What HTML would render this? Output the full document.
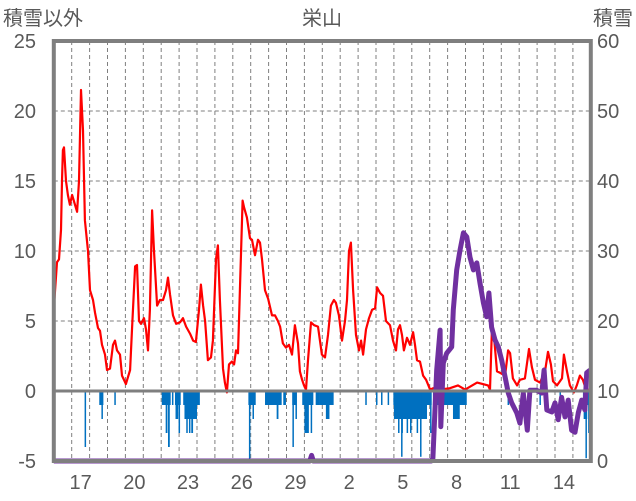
<!DOCTYPE html>
<html><head><meta charset="utf-8"><style>
body{margin:0;background:#fff;width:636px;height:501px;overflow:hidden}
svg{display:block;font-family:"Liberation Sans","Noto Sans CJK JP",sans-serif}
</style></head><body>
<svg id="chart" width="636" height="501" viewBox="0 0 636 501" xmlns="http://www.w3.org/2000/svg">
<text x="322" y="25" font-size="20" fill="#595959" text-anchor="middle">栄山</text>
<text x="3" y="25" font-size="20" fill="#595959">積雪以外</text>
<text x="633" y="25" font-size="20" fill="#595959" text-anchor="end">積雪</text>
<g id="grid"></g>
<g id="bars"></g>
<g id="lines"></g>
<g id="frame"></g>
<g id="ticks"></g>
</svg>
<script>
const xTickLabels=["17","20","23","26","29","2","5","8","11","14"];
const xTickDays=[1,4,7,10,13,16,19,22,25,28];
const leftTicks=[-5,0,5,10,15,20,25];
const rightTicks=[0,10,20,30,40,50,60];
const tempDays=[0.01,0.04,0.18,0.29,0.40,0.46,0.51,0.57,0.68,0.79,0.90,1.02,1.30,1.41,1.52,1.63,1.74,1.91,2.02,2.19,2.30,2.47,2.58,2.69,2.86,2.97,3.14,3.31,3.42,3.53,3.70,3.81,4.03,4.26,4.37,4.54,4.65,4.76,4.87,5.04,5.15,5.26,5.37,5.49,5.60,5.77,5.93,6.10,6.27,6.38,6.49,6.66,6.83,7.05,7.22,7.39,7.61,7.78,7.94,8.11,8.22,8.34,8.45,8.61,8.78,8.89,9.06,9.17,9.28,9.45,9.56,9.67,9.79,9.95,10.07,10.18,10.29,10.55,10.63,10.79,10.96,11.07,11.24,11.41,11.52,11.63,11.80,11.97,12.19,12.36,12.52,12.64,12.80,12.97,13.14,13.31,13.47,13.64,13.75,13.87,13.98,14.09,14.20,14.37,14.54,14.76,14.98,15.15,15.32,15.48,15.65,15.76,15.93,16.10,16.27,16.38,16.49,16.60,16.72,16.88,17.05,17.17,17.28,17.44,17.61,17.78,17.95,18.06,18.23,18.39,18.56,18.78,18.95,19.12,19.23,19.34,19.45,19.56,19.73,19.90,20.07,20.18,20.29,20.46,20.63,20.80,21.02,21.19,21.58,22.13,22.58,22.98,23.65,24.26,24.37,24.48,24.59,24.76,24.93,25.21,25.38,25.49,25.65,25.88,26.04,26.32,26.55,26.71,26.88,27.16,27.44,27.61,27.77,27.89,28.11,28.39,28.50,28.67,28.83,29.06,29.22,29.39,29.56,29.73,29.89];
const tempVals=[8.1,6.6,9.2,9.4,11.5,15,17.2,17.4,15,14,13.3,14,12.8,15,21.5,18.6,12.2,10,7.2,6.5,5.6,4.5,4.3,3.3,2.6,1.5,1.6,3.3,3.6,2.9,2.6,1.1,0.5,1.5,4.4,8.9,9,5,4.8,5.2,4.4,2.9,5.8,12.9,10,6.1,6.5,6.5,7.2,8.1,6.9,5.4,4.8,4.9,5.2,4.6,4.1,3.6,3.5,5.8,7.6,6.1,5,2.2,2.4,3.6,9.4,10.4,6.5,1.6,0.6,-0.1,1.9,2.1,1.9,2.9,2.7,13.6,13.1,12.4,10.9,10.8,9.7,10.8,10.6,9.4,7.2,6.6,5.4,5.4,5,4.6,3.4,3.1,3.3,2.6,4.7,3.4,1.4,0.8,0.4,0.1,2.2,4.9,4.7,4.6,2.6,2.4,4,6.1,6.5,6.3,5.4,3.6,5,6.5,10,10.6,7.2,4,2.9,3.6,2.6,4.4,5.2,5.8,5.9,7.4,7,6.8,5,4.7,3.6,2.9,4.4,4.7,4,2.9,3.8,3.3,4.2,3.3,2.2,2.1,1.1,0.8,0.1,0.2,0.1,0.2,0.4,0.1,0.6,0.4,0.1,4.6,3.9,1.4,1.3,1.1,2.9,2.7,0.9,0.4,0.8,0.9,3.0,1.7,0.8,0.6,1.4,2.8,1.9,0.7,0.4,0.9,2.6,1.4,0.4,-0.1,0.4,1.1,0.8,0.1,0.1];
const snowDays=[0,14.3,14.4,14.5,21.1,21.18,21.39,21.58,21.62,21.76,21.95,22.23,22.32,22.51,22.69,22.88,23.07,23.25,23.44,23.63,23.81,24.0,24.18,24.31,24.46,24.65,24.83,25.02,25.21,25.39,25.58,25.86,26.04,26.23,26.45,26.60,26.98,27.26,27.39,27.54,27.82,28.0,28.18,28.37,28.56,28.74,28.93,29.12,29.30,29.49,29.67,29.77,29.96];
const snowVals=[0,0,0.8,0,0,0.4,13,18.7,4.9,14,15.4,16.3,21.6,27.3,30.1,32.6,32,29.1,27.3,28.3,25.4,22.6,20.6,24,19.1,17.3,16.3,14.4,12,9.7,8.3,6.9,5.4,9.7,4.4,10.1,10.1,9.7,13,7.3,7,8.3,5.9,9.1,6.3,8.7,4.4,4.1,6.9,8.7,7.3,12.6,13];
const barStart=[1.72,2.54,2.66,3.38,6.03,6.25,6.38,6.60,6.77,6.80,6.97,7.23,7.30,7.40,7.55,7.68,10.87,10.90,11.10,11.80,12.45,12.82,13.32,13.33,13.50,13.88,14.0,14.35,14.63,14.87,15.2,15.55,17.40,18.0,18.28,18.65,18.97,19.0,19.23,19.42,19.71,19.90,20.27,20.46,21.02,19.40,20.46,21.18,22.30,25.35,27.13,28.25,29.56,29.6,29.70,29.85];
const barEnd=[1.80,2.77,2.74,3.46,6.53,6.35,6.48,6.68,7.09,6.95,7.05,8.16,8.0,7.48,7.63,7.78,11.28,10.98,11.18,12.73,12.55,12.97,13.57,13.40,13.57,14.50,14.25,14.42,14.87,15.60,15.4,15.62,17.48,18.08,18.36,18.73,21.11,20.85,19.31,19.50,19.79,19.98,20.35,20.54,21.10,19.46,20.52,23.07,22.68,25.43,27.21,28.33,29.96,29.8,29.76,29.9];
const barVals=[-4,-1,-2,-1,-1,-3,-4,-1,-1,-2,-3,-1,-2,-3,-3,-3,-1,-5,-2,-1,-2,-1,-1,-4,-2,-1,-3,-3,-1,-1,-2,-1,-1,-1,-1,-1,-1,-2,-3,-3,-3,-3,-3,-3,-3,-4.7,-4.7,-1,-2,-1,-1,-1,-1,-2,-4.8,-3];

const X0=53.8,DX=17.9,NDAYS=30;
function x(d){return X0+d*DX;}
function yL(v){return 391-v*14;}
function yR(s){return 461-s*7;}
const NS="http://www.w3.org/2000/svg";
function mk(tag,attrs,parent){const e=document.createElementNS(NS,tag);for(const k in attrs)e.setAttribute(k,attrs[k]);parent.appendChild(e);return e;}
const grid=document.getElementById('grid'),bars=document.getElementById('bars'),lines=document.getElementById('lines'),frame=document.getElementById('frame'),ticks=document.getElementById('ticks');
for(let d=1;d<NDAYS;d++){
  const l=mk('line',{x1:x(d),x2:x(d),y1:yL(25),y2:yL(-5),stroke:'#7f7f7f','stroke-width':1,'stroke-dasharray':'4,3'},grid);
  
  
}
[5,10,15,20].forEach(v=>{
  const l=mk('line',{x1:x(0),x2:x(NDAYS),y1:yL(v),y2:yL(v),stroke:'#7f7f7f','stroke-width':1,'stroke-dasharray':'4,3'},grid);
  
  
});
for(let i=0;i<barVals.length;i++){
  const r=mk('rect',{x:x(barStart[i]),y:yL(0),width:Math.max(1.5,x(barEnd[i])-x(barStart[i])),height:yL(barVals[i])-yL(0),fill:'#0070C0'},bars);
  
  
}
let p='';tempDays.forEach((d,i)=>{p+=(i?'L':'M')+x(d).toFixed(1)+','+yL(tempVals[i]).toFixed(1);});
const tl=mk('path',{d:p,fill:'none',stroke:'#ff0000','stroke-width':2.2,'stroke-linejoin':'round'},lines);


let q='';snowDays.forEach((d,i)=>{q+=(i?'L':'M')+x(d).toFixed(1)+','+yR(snowVals[i]).toFixed(1);});
const sl=mk('path',{d:q,fill:'none',stroke:'#7030A0','stroke-width':5,'stroke-linejoin':'round'},lines);


const zl=mk('line',{x1:x(0),x2:x(NDAYS),y1:yL(0),y2:yL(0),stroke:'#7f7f7f','stroke-width':3},frame);


const fr=mk('rect',{x:x(0),y:yL(25),width:x(NDAYS)-x(0),height:yL(-5)-yL(25),fill:'none',stroke:'#7f7f7f','stroke-width':4},frame);


leftTicks.forEach(v=>{
  const t=mk('text',{x:36,y:yL(v)+7,'font-size':20,fill:'#595959','text-anchor':'end'},ticks);
  t.textContent=v;
  
  
});
rightTicks.forEach(v=>{
  const t=mk('text',{x:597,y:yR(v)+7,'font-size':20,fill:'#595959'},ticks);
  t.textContent=v;
  
  
});
xTickLabels.forEach((s,i)=>{
  const t=mk('text',{x:x(xTickDays[i]+0.5),y:489,'font-size':20,fill:'#595959','text-anchor':'middle'},ticks);
  t.textContent=s;
  
  
});
</script>
</body></html>
